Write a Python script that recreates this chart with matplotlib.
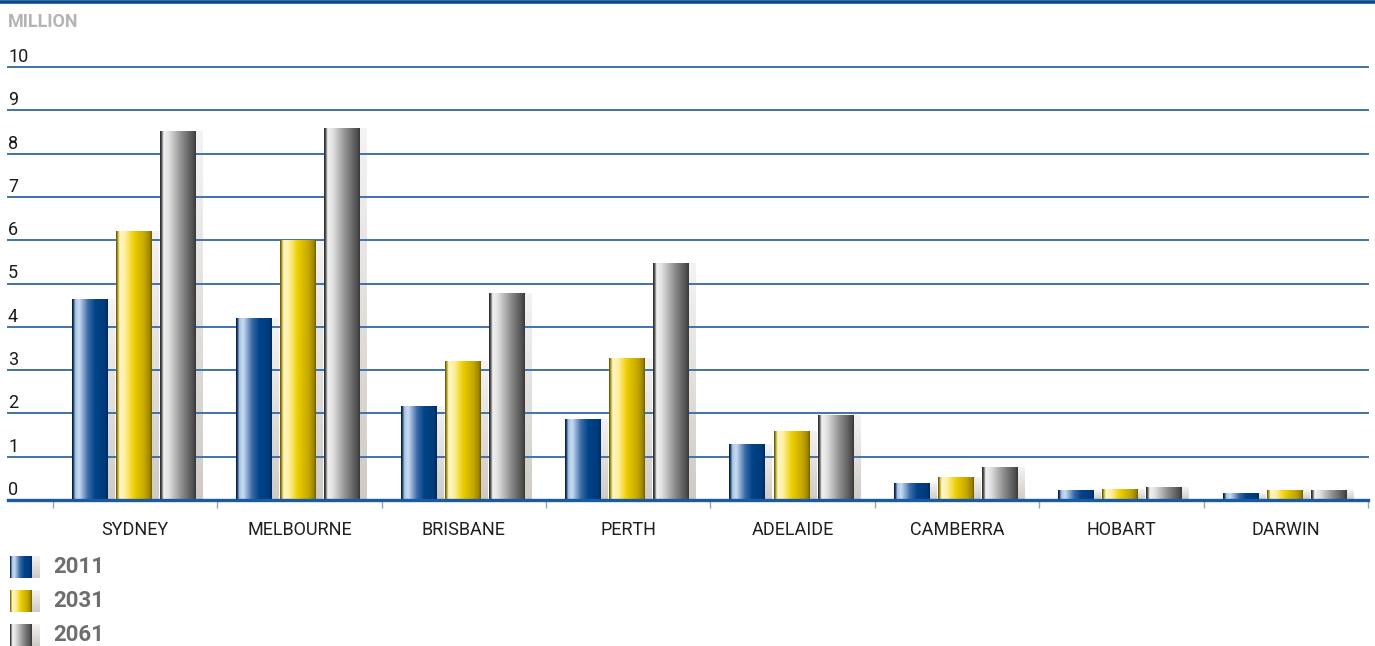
import numpy as np
import matplotlib
matplotlib.use("Agg")
import matplotlib.pyplot as plt
from matplotlib.colors import LinearSegmentedColormap
from matplotlib.lines import Line2D
from matplotlib.transforms import blended_transform_factory, offset_copy

plt.rcParams["font.family"] = ["Roboto", "DejaVu Sans"]

# ── Data (population, million) ─────────────────────────────────────────────
cities = ["SYDNEY", "MELBOURNE", "BRISBANE", "PERTH", "ADELAIDE",
          "CAMBERRA", "HOBART", "DARWIN"]
years = ["2011", "2031", "2061"]
pop_2011 = [4.64, 4.20, 2.15, 1.87, 1.29, 0.39, 0.23, 0.16]
pop_2031 = [6.21, 6.00, 3.21, 3.26, 1.59, 0.53, 0.25, 0.23]
pop_2061 = [8.50, 8.57, 4.76, 5.47, 1.94, 0.76, 0.30, 0.23]
y_ticks = [0, 1, 2, 3, 4, 5, 6, 7, 8, 9, 10]

# ── Cylinder-style gradients ───────────────────────────────────────────────
blue_cmap = LinearSegmentedColormap.from_list("blue", [
    (0.00, "#001a40"), (0.04, "#1a3a66"), (0.09, "#a8c4e4"), (0.20, "#c8dcf0"),
    (0.45, "#3a6aa8"), (0.65, "#004488"), (0.92, "#003a7a"), (1.00, "#002a5a")])
yellow_cmap = LinearSegmentedColormap.from_list("yellow", [
    (0.00, "#5a4a00"), (0.05, "#b8a020"), (0.10, "#fff6c8"), (0.25, "#fff0a0"),
    (0.50, "#ecce00"), (0.80, "#c4a600"), (0.95, "#9a8200"), (1.00, "#6a5800")])
gray_cmap = LinearSegmentedColormap.from_list("gray", [
    (0.00, "#202020"), (0.05, "#606060"), (0.10, "#f2f2f2"), (0.25, "#e0e0e0"),
    (0.60, "#8e8e8e"), (0.92, "#505050"), (1.00, "#383838")])
cmaps = [blue_cmap, yellow_cmap, gray_cmap]
series = [pop_2011, pop_2031, pop_2061]

h_grad = np.linspace(0, 1, 256).reshape(1, -1)

# shadow: light warm gray, fading towards the top
shadow = np.zeros((64, 1, 4))
shadow[..., 0] = 0.79
shadow[..., 1] = 0.77
shadow[..., 2] = 0.75
shadow[..., 3] = np.linspace(0.2, 0.9, 64).reshape(-1, 1)  # row 0 = top

fig = plt.figure(figsize=(13.75, 6.46), dpi=100)
ax = fig.add_axes([8 / 1375, 146 / 646, 1360 / 1375, 433 / 646])

bar_w = 0.213
step = 0.268
shadow_w = 0.043
x = np.arange(len(cities))

for i, (vals, cmap) in enumerate(zip(series, cmaps)):
    bars = ax.bar(x - 0.01 + (i - 1) * step, vals, width=bar_w,
                  color="none", edgecolor="none", zorder=3)
    for b in bars:
        x0, w, h = b.get_x(), b.get_width(), b.get_height()
        ax.imshow(shadow, extent=[x0 + w, x0 + w + shadow_w, 0, h],
                  aspect="auto", interpolation="bilinear", zorder=1)
        ax.imshow(h_grad, cmap=cmap, extent=[x0, x0 + w, 0, h],
                  aspect="auto", interpolation="bilinear", zorder=3)

# gridlines
for v in y_ticks[1:]:
    ax.axhline(v, color="#3f72ad", lw=1.4, zorder=2, clip_on=False)
ax.axhline(0, color="#1a5aa0", lw=2.4, zorder=4, clip_on=False)

ax.set_xlim(-0.5 - 45 / 164.4, 7.5)
ax.set_ylim(0, 10)

for s in ax.spines.values():
    s.set_visible(False)

ax.set_yticks([])
ax.set_xticks(x, cities, fontsize=13, color="#1e1e1e")
ax.tick_params(axis="x", which="major", length=0, pad=15)
ax.set_xticks(np.arange(-0.5, 8.0, 1.0), minor=True)
ax.tick_params(axis="x", which="minor", length=6, width=1.0,
               color="#8aa6c8", direction="out")

# y labels sit above their gridlines
trans = blended_transform_factory(ax.transAxes, ax.transData)
trans = offset_copy(trans, fig=fig, x=0, y=5, units="dots")
for v in y_ticks:
    ax.text(0, v, str(v), transform=trans, ha="left", va="baseline",
            fontsize=13, color="#1a1a1a", clip_on=False)

fig.text(8 / 1375, 1 - 27 / 646, "MILLION", fontsize=13, fontweight="bold",
         color="#b4b4b4", ha="left", va="baseline")

# top rule
fig.add_artist(Line2D([0, 1], [1 - 2 / 646, 1 - 2 / 646], transform=fig.transFigure,
                      color="#0b4a8c", lw=2.6))

# legend with gradient swatches
for k, (yr, cmap) in enumerate(zip(years, cmaps)):
    cy = 567 + 34 * k
    sw_ax = fig.add_axes([10 / 1375, 1 - (cy + 11) / 646, 30 / 1375, 22 / 646])
    sw_ax.imshow(h_grad, cmap=cmap, extent=[0, 22, 0, 1], aspect="auto",
                 interpolation="bilinear")
    sw_ax.imshow(shadow, extent=[22, 30, 0, 1], aspect="auto",
                 interpolation="bilinear")
    sw_ax.set_xlim(0, 30)
    sw_ax.set_ylim(0, 1)
    sw_ax.axis("off")
    fig.text(53 / 1375, 1 - cy / 646, yr, fontsize=16, fontweight="bold",
             color="#6e6e6e", ha="left", va="center")

fig.savefig("out.png", dpi=100)
